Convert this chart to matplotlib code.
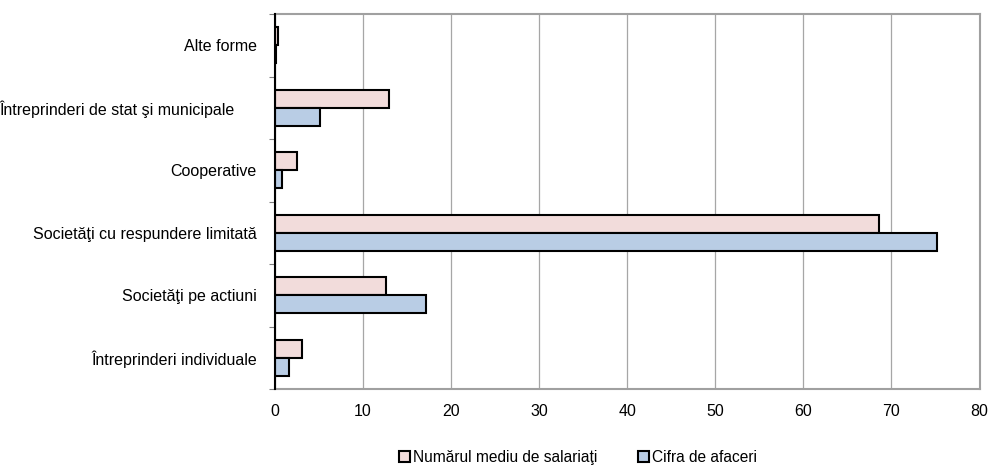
import numpy as np
import matplotlib.pyplot as plt
from matplotlib.patches import Patch

plt.rcParams['font.family'] = ['Liberation Sans', 'DejaVu Sans']

# categories from bottom to top
categories = [
    "Întreprinderi individuale",
    "Societăţi pe actiuni",
    "Societăţi cu respundere limitată",
    "Cooperative",
    "Întreprinderi de stat şi municipale     ",
    "Alte forme",
]
salariati = [3.1, 12.6, 68.6, 2.5, 12.9, 0.35]
afaceri = [1.6, 17.2, 75.2, 0.8, 5.1, 0.1]

series_names = ["Numărul mediu de salariaţi", "Cifra de afaceri"]
pink = "#F2DCDB"
blue = "#B9CDE5"

fig = plt.figure(figsize=(9.9, 4.67), dpi=100)
ax = fig.add_axes([0.2778, 0.167, 0.7116, 0.803])

y = np.arange(len(categories))
h = 0.29
ax.barh(y + h / 2, salariati, height=h, color=pink, edgecolor="black", linewidth=1.5, zorder=3)
ax.barh(y - h / 2, afaceri, height=h, color=blue, edgecolor="black", linewidth=1.5, zorder=3)

ax.set_xlim(0, 80)
ax.set_ylim(-0.5, len(categories) - 0.5)
ax.set_xticks(np.arange(0, 81, 10))
ax.set_yticks(y)
ax.set_yticklabels(categories)
ax.set_yticks(np.arange(-0.5, len(categories), 1), minor=True)

ax.grid(axis="x", color="#A6A6A6", linewidth=0.9, zorder=0)
ax.tick_params(axis="y", which="major", length=0, pad=13, labelsize=11.5)
ax.tick_params(axis="y", which="minor", length=4, width=0.8, color="#808080")
ax.tick_params(axis="x", length=0, pad=11, labelsize=11.5)

for side in ["top", "right", "bottom"]:
    ax.spines[side].set_color("#A0A0A0")
    ax.spines[side].set_linewidth(1.5)
ax.spines["left"].set_color("black")
ax.spines["left"].set_linewidth(1.5)
ax.spines["left"].set_zorder(4)

handles = [Patch(facecolor=pink, edgecolor="black", linewidth=1.5),
           Patch(facecolor=blue, edgecolor="black", linewidth=1.5)]
fig.legend(handles, series_names, loc="lower center", bbox_to_anchor=(0.584, -0.025),
           ncol=2, frameon=False, fontsize=11.2, handlelength=0.7, handleheight=0.7,
           handletextpad=0.2, columnspacing=2.6)

fig.savefig("out.png", dpi=100)
